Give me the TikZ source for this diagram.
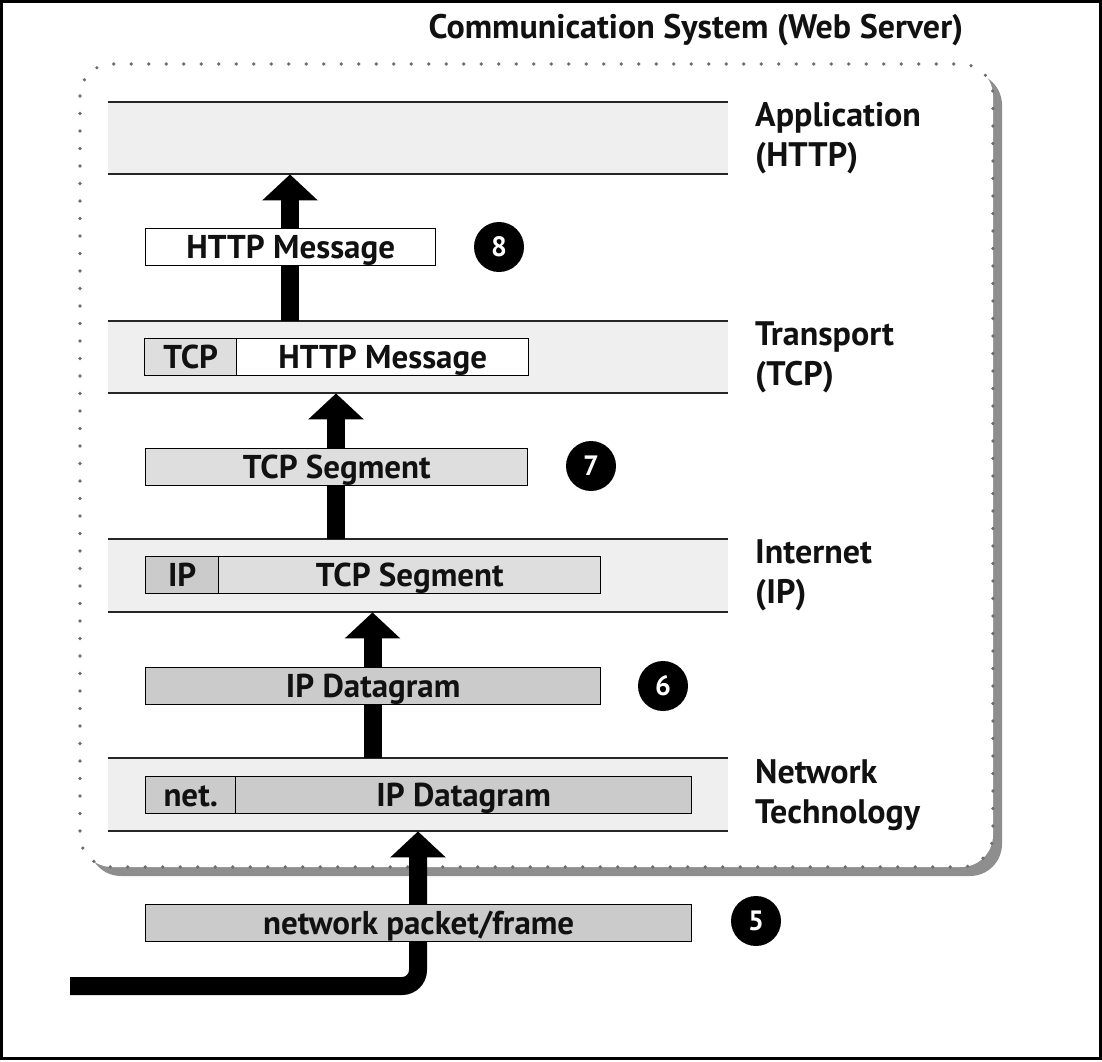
\documentclass[tikz,border=0pt]{standalone}
\usepackage{fontspec}
\setmainfont{PT Sans}
\usetikzlibrary{arrows.meta}

\definecolor{bandfill}{HTML}{EFEFEF}
\definecolor{hdrlight}{HTML}{DEDEDE}
\definecolor{hdrmid}{HTML}{CBCBCB}
\definecolor{dotgray}{HTML}{6E6E6E}
\definecolor{shadowgray}{HTML}{8E8E8E}
\definecolor{ink}{HTML}{111111}

\tikzset{
  band/.style={rectangle, fill=bandfill, inner sep=0pt, anchor=north west,
    minimum width=620pt, minimum height=72pt},
  bandline/.style={line width=2pt, draw=black!85},
  pkt/.style={rectangle, draw=black, line width=1.4pt, inner sep=0pt,
    anchor=north west, minimum height=37pt, text height=23pt, text depth=0pt,
    font=\bfseries\fontsize{33}{36}\selectfont, text=ink},
  flow/.style={line width=18pt, draw=black, -{Triangle[width=54pt,length=26pt]}},
  badge/.style={circle, fill=black, inner sep=0pt, minimum size=50pt,
    text=white, font=\bfseries\fontsize{28}{30}\selectfont},
  lbl/.style={inner sep=0pt, anchor=north west, align=left, text=ink,
    font=\bfseries\fontsize{34}{40}\selectfont},
  heading/.style={inner sep=0pt, anchor=base, text=ink,
    font=\bfseries\fontsize{34}{38}\selectfont}
}

\begin{document}
\begin{tikzpicture}[x=1pt,y=-1pt]
  \useasboundingbox (0,0) rectangle (1102,1061);

  % outer frame
  \draw[line width=3pt] (1.5,1.5) rectangle (1100,1058.5);

  % title
  \node[heading] (title) at (696,38) {Communication System (Web Server)};

  % dotted system boundary with drop shadow
  \fill[shadowgray, rounded corners=32pt] (89,73) rectangle (1002,876);
  \draw[dotgray, fill=white, line width=3.6pt, line cap=round,
        dash pattern=on 0pt off 17.5pt, rounded corners=32pt]
        (80,64) rectangle (993,867);

  % protocol layers
  \node[band] (app) at (108,102) {};
  \node[band] (tcp) at (108,321) {};
  \node[band, minimum height=73pt] (ip) at (108,539) {};
  \node[band, minimum height=73pt] (net) at (108,758) {};
  \foreach \b in {app,tcp,ip,net}{
    \draw[bandline] (\b.north west) -- (\b.north east);
    \draw[bandline] (\b.south west) -- (\b.south east);
  }

  % layer names
  \node[lbl] (lapp) at (755,102) {Application\\(HTTP)};
  \node[lbl] (ltcp) at (755,321) {Transport\\(TCP)};
  \node[lbl] (lip)  at (755,539) {Internet\\(IP)};
  \node[lbl] (lnet) at (755,759) {Network\\Technology};

  % centre lines of the packets, shared by the arrows
  \coordinate (msgc) at (290,247);
  \coordinate (segc) at (336,466);
  \coordinate (dgc)  at (372.5,685);
  \coordinate (frc)  at (418,922);

  % data flow arrows
  \draw[flow] (msgc |- tcp.north) -- (msgc |- app.south);
  \draw[flow] (segc |- ip.north) -- (segc |- tcp.south);
  \draw[flow] (dgc |- net.north) -- (dgc |- ip.south);
  \coordinate (wire) at (70,986);
  \draw[flow, rounded corners=16pt] (wire) -| (frc |- net.south);

  % packets
  \node[pkt, fill=white, minimum width=290pt] (msg) at (145,228) {HTTP Message};

  \node[pkt, fill=hdrlight, minimum width=92pt] (tcph) at (144,338) {TCP};
  \node[pkt, fill=white, minimum width=292pt] (tcpd) at (236,338) {HTTP Message};

  \node[pkt, fill=hdrlight, minimum width=382pt] (seg) at (145,448) {TCP Segment};

  \node[pkt, fill=hdrmid, minimum width=73pt] (iph) at (145,556) {IP};
  \node[pkt, fill=hdrlight, minimum width=382pt] (ipd) at (218,556) {TCP Segment};

  \node[pkt, fill=hdrmid, minimum width=455pt] (dgram) at (145,667) {IP Datagram};

  \node[pkt, fill=hdrmid, minimum width=90pt] (neth) at (145,776) {net.};
  \node[pkt, fill=hdrmid, minimum width=456pt] (netd) at (235,776) {IP Datagram};

  \node[pkt, fill=hdrmid, minimum width=546pt] (frame) at (145,904) {network packet/frame};

  % step numbers
  \node[badge] (n8) at (499,247) {8};
  \node[badge] (n7) at (591,466) {7};
  \node[badge] (n6) at (663,686) {6};
  \node[badge] (n5) at (756,921) {5};
\end{tikzpicture}
\end{document}
